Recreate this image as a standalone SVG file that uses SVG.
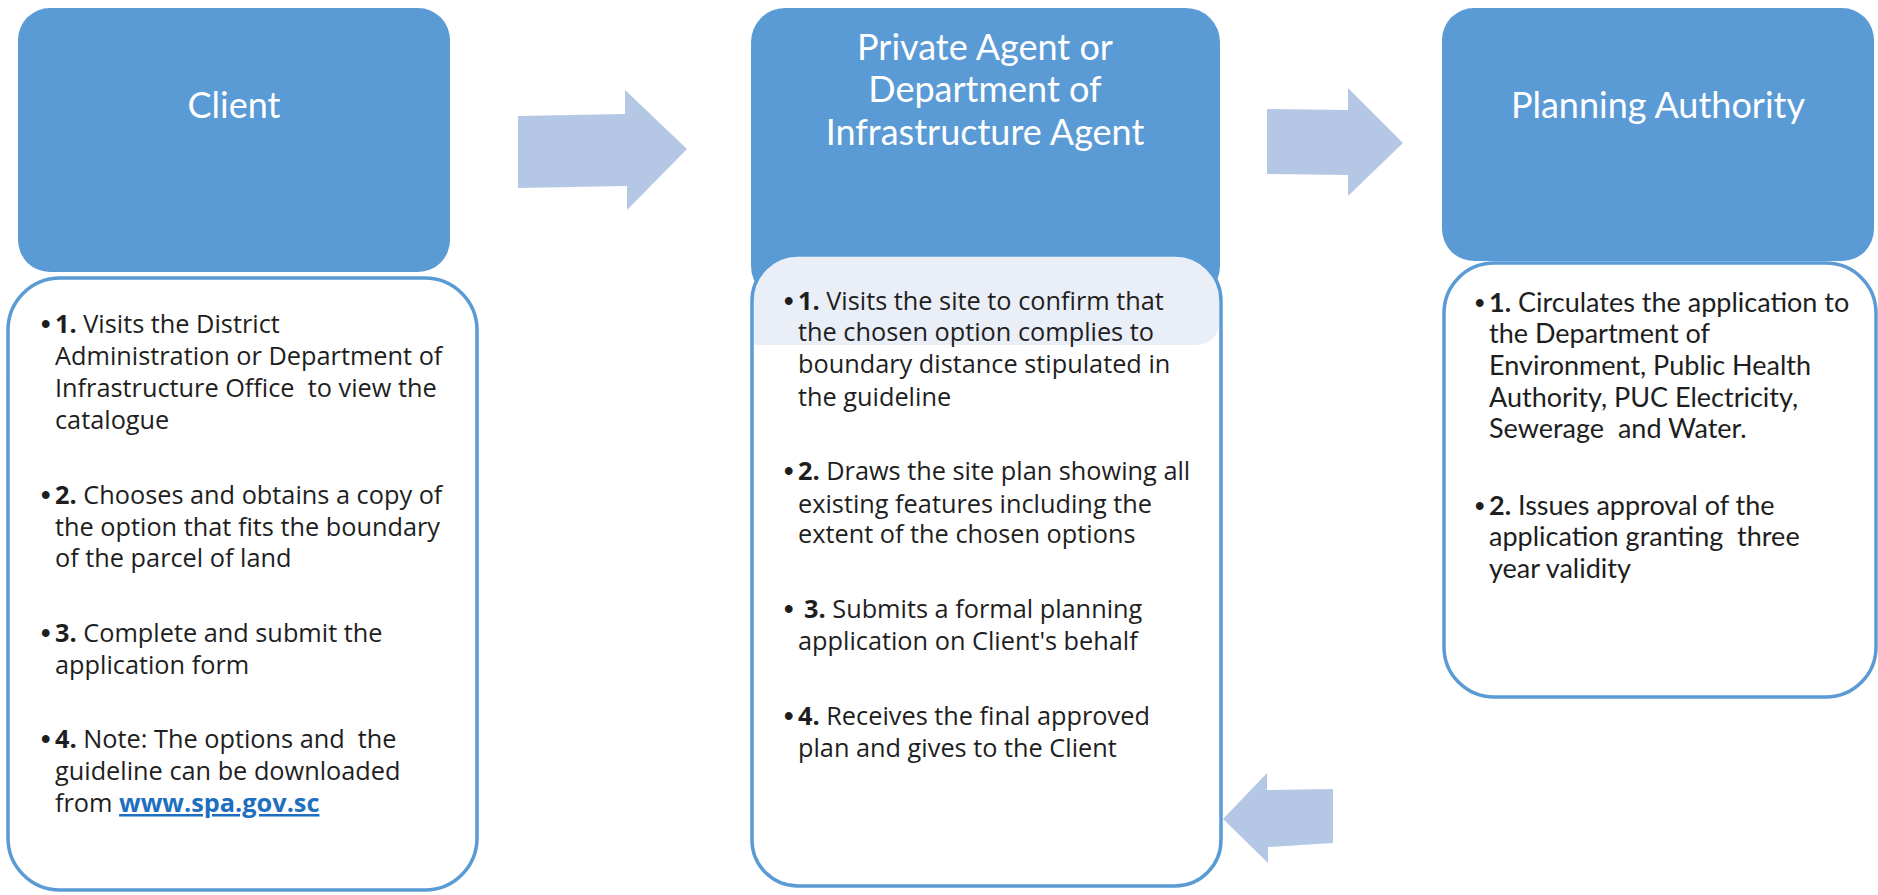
<svg xmlns="http://www.w3.org/2000/svg" width="1878" height="895" viewBox="0 0 1878 895">
<style>
.hdr{fill:#5B9BD5}
.box{fill:none;stroke:#5B9BD5;stroke-width:3.5}
.arrow{fill:#B4C8E6}
.ht{font-family:Lato,"Liberation Sans",sans-serif;font-weight:normal;font-size:36px;fill:#fff;text-anchor:middle}
.t{font-family:"Open Sans","Liberation Sans",sans-serif;font-size:25.3px;fill:#1e1e1e;white-space:pre}
.tr{font-family:Lato,"Liberation Sans",sans-serif;font-size:27px;fill:#1e1e1e;white-space:pre}
.bul{font-family:"Liberation Sans",sans-serif;font-weight:bold;font-size:27px}
.b{font-weight:bold}
.link{font-weight:bold;fill:#1F6FC0;text-decoration:underline}
</style>
<rect width="1878" height="895" fill="#fff"/>
<g id="connectors">
<polygon class="arrow" points="518,116 625,114 625,90 687,149 627,210 627,186 518,188"/>
<polygon class="arrow" points="1267,109 1348,110 1348,88 1403,143 1348,196 1348,175 1267,174"/>
<polygon class="arrow" points="1333,789 1267,790 1267,773 1223,819 1268,863 1268,847 1333,843"/>
</g>
<g id="client">
<rect class="hdr" x="18" y="8" width="432" height="264" rx="32"/>
<text class="ht" x="234" y="118">Client</text>
</g>
<g id="client-steps">
<rect x="8" y="278" width="469" height="612" rx="52" fill="#fff"/>
<rect class="box" x="8" y="278" width="469" height="612" rx="52"/>
<text class="t" x="41" y="333"><tspan class="bul">•</tspan><tspan class="b" x="55">1.</tspan> Visits the District</text>
<text class="t" x="55" y="365">Administration or Department of</text>
<text class="t" x="55" y="397">Infrastructure Office  to view the</text>
<text class="t" x="55" y="429">catalogue</text>
<text class="t" x="41" y="504"><tspan class="bul">•</tspan><tspan class="b" x="55">2.</tspan> Chooses and obtains a copy of</text>
<text class="t" x="55" y="536">the option that fits the boundary</text>
<text class="t" x="55" y="567">of the parcel of land</text>
<text class="t" x="41" y="642"><tspan class="bul">•</tspan><tspan class="b" x="55">3.</tspan> Complete and submit the</text>
<text class="t" x="55" y="674">application form</text>
<text class="t" x="41" y="748"><tspan class="bul">•</tspan><tspan class="b" x="55">4.</tspan> Note: The options and  the</text>
<text class="t" x="55" y="780">guideline can be downloaded</text>
<text class="t" x="55" y="812">from <tspan class="link">www.spa.gov.sc</tspan></text>
</g>
<g id="agent">
<rect class="hdr" x="751" y="8" width="469" height="292" rx="34"/>
<text class="ht" x="985" y="60">Private Agent or</text>
<text class="ht" x="985" y="102">Department of</text>
<text class="ht" x="985" y="145">Infrastructure Agent</text>
</g>
<g id="agent-steps">
<rect x="752" y="255" width="469" height="631" rx="46" fill="#fff"/>
<path d="M754,345 L754,301 A44,44 0 0 1 798,257 L1175,257 A44,44 0 0 1 1219,301 L1219,323 A22,22 0 0 1 1197,345 Z" fill="#E9EEF7"/>
<rect class="box" x="752" y="255" width="469" height="631" rx="46"/>
<text class="t" x="784" y="310"><tspan class="bul">•</tspan><tspan class="b" x="798">1.</tspan> Visits the site to confirm that</text>
<text class="t" x="798" y="341">the chosen option complies to</text>
<text class="t" x="798" y="373">boundary distance stipulated in</text>
<text class="t" x="798" y="406">the guideline</text>
<text class="t" x="784" y="480"><tspan class="bul">•</tspan><tspan class="b" x="798">2.</tspan> Draws the site plan showing all</text>
<text class="t" x="798" y="513">existing features including the</text>
<text class="t" x="798" y="543">extent of the chosen options</text>
<text class="t" x="784" y="618"><tspan class="bul">•</tspan><tspan class="b" x="804">3.</tspan> Submits a formal planning</text>
<text class="t" x="798" y="650">application on Client's behalf</text>
<text class="t" x="784" y="725"><tspan class="bul">•</tspan><tspan class="b" x="798">4.</tspan> Receives the final approved</text>
<text class="t" x="798" y="757">plan and gives to the Client</text>
</g>
<g id="authority">
<rect class="hdr" x="1442" y="8" width="432" height="253" rx="32"/>
<text class="ht" x="1658" y="118">Planning Authority</text>
</g>
<g id="authority-steps">
<rect x="1444" y="263" width="432" height="434" rx="50" fill="#fff"/>
<rect class="box" x="1444" y="263" width="432" height="434" rx="50"/>
<text class="tr" x="1475" y="312"><tspan class="bul">•</tspan><tspan class="b" x="1489">1.</tspan> Circulates the application to</text>
<text class="tr" x="1489" y="343">the Department of</text>
<text class="tr" x="1489" y="375">Environment, Public Health</text>
<text class="tr" x="1489" y="407">Authority, PUC Electricity,</text>
<text class="tr" x="1489" y="438">Sewerage  and Water.</text>
<text class="tr" x="1475" y="515"><tspan class="bul">•</tspan><tspan class="b" x="1489">2.</tspan> Issues approval of the</text>
<text class="tr" x="1489" y="546">application granting  three</text>
<text class="tr" x="1489" y="578">year validity</text>
</g>
</svg>
